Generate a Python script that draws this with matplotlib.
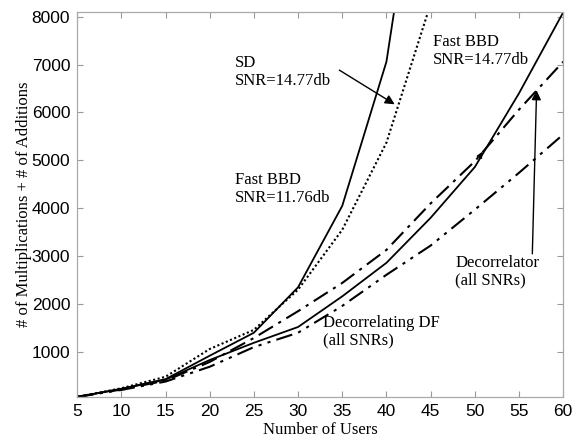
"""
Complexity vs number of users for several detectors
"""
import matplotlib
matplotlib.use('Agg')
import matplotlib.pyplot as plt

# Data
users = [5, 10, 15, 20, 25, 30, 35, 40, 45, 50, 55, 60]

sd_users = [5, 10, 15, 20, 25, 30, 35, 40, 45]
sd_1477 = [60, 230, 430, 920, 1400, 2350, 4050, 7060, 13100]

bbd_low_users = [5, 10, 15, 20, 25, 30, 35, 40, 45]
fast_bbd_1176 = [60, 240, 480, 1060, 1460, 2300, 3550, 5370, 8270]

fast_bbd_1477 = [60, 225, 420, 830, 1190, 1520, 2160, 2860, 3800, 4860, 6400, 8090]
decorrelator = [60, 215, 400, 790, 1290, 1850, 2440, 3130, 4100, 4980, 6060, 7060]
decorr_df = [60, 205, 380, 690, 1100, 1400, 1960, 2610, 3220, 3970, 4740, 5540]

x_ticks = [5, 10, 15, 20, 25, 30, 35, 40, 45, 50, 55, 60]
y_ticks = [1000, 2000, 3000, 4000, 5000, 6000, 7000, 8000]

serif = 'Liberation Serif'
sans = 'Liberation Sans'

fig = plt.figure(figsize=(5.8, 4.41), dpi=100)
ax = fig.add_axes([0.133, 0.100, 0.838, 0.873])

lw = 1.3
ax.plot(sd_users, sd_1477, color='black', linestyle='-', linewidth=lw)
ax.plot(bbd_low_users, fast_bbd_1176, color='black', linestyle=(0, (1, 1.2)), linewidth=1.5)
ax.plot(users, fast_bbd_1477, color='black', linestyle='-', linewidth=lw)
ax.plot(users, decorrelator, color='black', linestyle=(0, (8, 3, 1.5, 3)), linewidth=1.5)
ax.plot(users, decorr_df, color='black', linestyle=(0, (8, 3, 1.5, 3, 1.5, 3)), linewidth=1.5)

ax.set_xlim(5, 60)
ax.set_ylim(60, 8100)
ax.set_xticks(x_ticks)
ax.set_yticks(y_ticks)
ax.set_xticklabels([str(v) for v in x_ticks], fontfamily=sans, fontsize=12.5)
ax.set_yticklabels([str(v) for v in y_ticks], fontfamily=sans, fontsize=12.5)
ax.tick_params(direction='in', top=True, right=True, length=4, width=0.8,
               color='#999999', pad=5)
for s in ax.spines.values():
    s.set_color('#aaaaaa')
    s.set_linewidth(0.9)

ax.set_xlabel('Number of Users', fontfamily=serif, fontsize=12, labelpad=2)
ax.set_ylabel('# of Multiplications + # of Additions', fontfamily=serif,
              fontsize=12, labelpad=0)

# Curve labels
txt = dict(fontfamily=serif, fontsize=12, ha='left', va='center', linespacing=1.15)
ax.text(22.9, 6850, 'SD\nSNR=14.77db', **txt)
ax.text(22.9, 4410, 'Fast BBD\nSNR=11.76db', **txt)
ax.text(45.3, 7290, 'Fast BBD\nSNR=14.77db', **txt)
ax.text(47.8, 2670, 'Decorrelator\n(all SNRs)', **txt)
ax.text(32.8, 1418, 'Decorrelating DF\n(all SNRs)', **txt)

arrow = dict(arrowstyle='-|>', color='black', lw=1.0, mutation_scale=14)
ax.annotate('', xy=(41.2, 6140), xytext=(34.4, 6915), arrowprops=arrow)
ax.annotate('', xy=(57.0, 6520), xytext=(56.5, 2990), arrowprops=arrow)
# small stray arrowhead sitting on the decorrelator curve
ax.annotate('', xy=(51.0, 5230), xytext=(50.5, 5060),
            arrowprops=dict(arrowstyle='-|>', color='black', lw=0.8, mutation_scale=9))

plt.savefig('out.png', dpi=100)
